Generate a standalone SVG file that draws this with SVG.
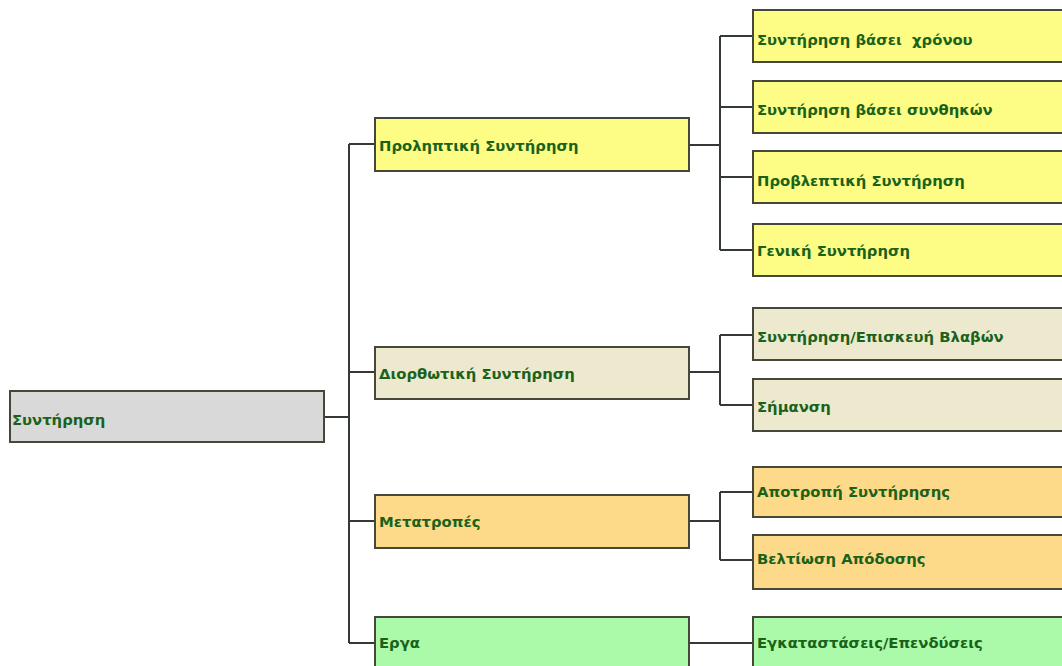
<svg xmlns="http://www.w3.org/2000/svg" width="1062" height="666" viewBox="0 0 1062 666">
<style>
.box{stroke:#45473a;stroke-width:2}
.gray{fill:#d9d9d9}
.yel{fill:#fdfd85}
.beige{fill:#ece9cf}
.orange{fill:#fdd98a}
.green{fill:#aafaa9}
text{font-family:"DejaVu Sans",Verdana,sans-serif;font-weight:bold;font-size:14.8px;fill:#1a621a}
.conn{stroke:#333a33;stroke-width:2;fill:none}
</style>
<rect width="1062" height="666" fill="#ffffff"/>
<g id="connectors">
<path class="conn" d="M324,417 H349 M349,144 V643 M349,144 H375 M349,372 H375 M349,521 H375 M349,643 H375"/>
<path class="conn" d="M689,145 H720 M720,36 V250 M720,36 H753 M720,107 H753 M720,177 H753 M720,250 H753"/>
<path class="conn" d="M689,372 H720 M720,335 V405 M720,335 H753 M720,405 H753"/>
<path class="conn" d="M689,521 H720 M720,492 V560 M720,492 H753 M720,560 H753"/>
<path class="conn" d="M689,643 H753"/>
</g>
<g id="root"><rect class="box gray" x="10" y="391" width="314" height="51"/><text x="12" y="425">Συντήρηση</text></g>
<g id="n1"><rect class="box yel" x="375" y="118" width="314" height="53"/><text x="379" y="151">Προληπτική Συντήρηση</text></g>
<g id="n2"><rect class="box beige" x="375" y="347" width="314" height="52"/><text x="379" y="379">Διορθωτική Συντήρηση</text></g>
<g id="n3"><rect class="box orange" x="375" y="495" width="314" height="53"/><text x="379" y="527">Μετατροπές</text></g>
<g id="n4"><rect class="box green" x="375" y="617" width="314" height="60"/><text x="379" y="648">Εργα</text></g>
<g id="n11"><rect class="box yel" x="753" y="10" width="320" height="52"/><text x="757" y="45" xml:space="preserve">Συντήρηση βάσει  χρόνου</text></g>
<g id="n12"><rect class="box yel" x="753" y="81" width="320" height="52"/><text x="757" y="115">Συντήρηση βάσει συνθηκών</text></g>
<g id="n13"><rect class="box yel" x="753" y="151" width="320" height="52"/><text x="757" y="186">Προβλεπτική Συντήρηση</text></g>
<g id="n14"><rect class="box yel" x="753" y="224" width="320" height="52"/><text x="757" y="256">Γενική Συντήρηση</text></g>
<g id="n21"><rect class="box beige" x="753" y="308" width="320" height="52"/><text x="757" y="342">Συντήρηση/Επισκευή Βλαβών</text></g>
<g id="n22"><rect class="box beige" x="753" y="379" width="320" height="52"/><text x="757" y="412">Σήμανση</text></g>
<g id="n31"><rect class="box orange" x="753" y="467" width="320" height="50"/><text x="757" y="497">Αποτροπή Συντήρησης</text></g>
<g id="n32"><rect class="box orange" x="753" y="535" width="320" height="54"/><text x="757" y="564">Βελτίωση Απόδοσης</text></g>
<g id="n41"><rect class="box green" x="753" y="617" width="320" height="60"/><text x="757" y="648">Εγκαταστάσεις/Επενδύσεις</text></g>
</svg>
